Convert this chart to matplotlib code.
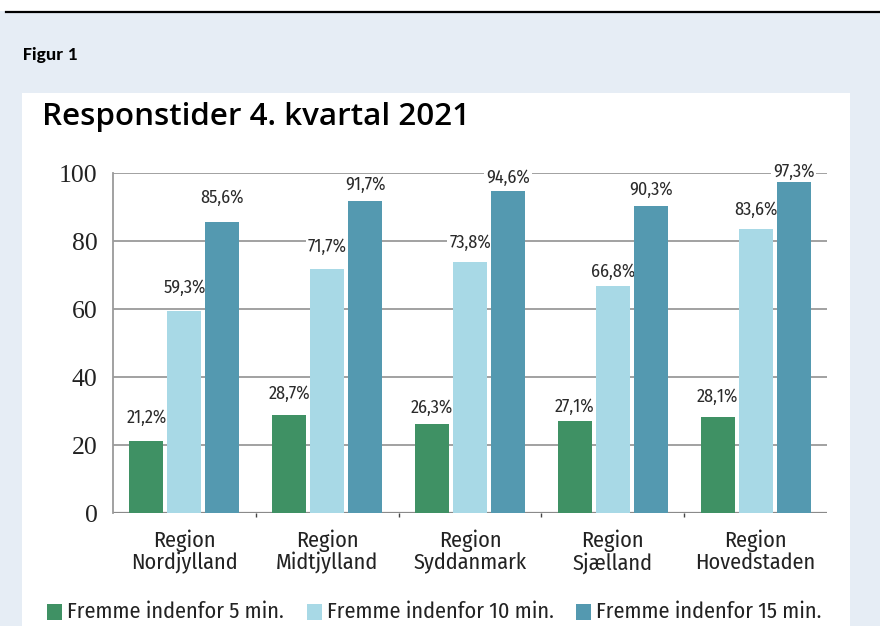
import matplotlib
matplotlib.use("Agg")
import matplotlib.pyplot as plt
from matplotlib import font_manager
from matplotlib.font_manager import FontProperties
from matplotlib.patches import Rectangle
from matplotlib.lines import Line2D
import matplotlib.patheffects as pe
import numpy as np

# ---- data ----
regions = ["Region\nNordjylland", "Region\nMidtjylland", "Region\nSyddanmark",
           "Region\nSjælland", "Region\nHovedstaden"]
series_names = ["Fremme indenfor 5 min.", "Fremme indenfor 10 min.", "Fremme indenfor 15 min."]
within_5 = [21.2, 28.7, 26.3, 27.1, 28.1]
within_10 = [59.3, 71.7, 73.8, 66.8, 83.6]
within_15 = [85.6, 91.7, 94.6, 90.3, 97.3]
yticks = [0, 20, 40, 60, 80, 100]

# label vertical offsets in pixels (layout only)
label_dy = [[23, 22, 16, 14, 21],
            [24, 22, 19, 14, 19],
            [24, 16, 14, 16, 10]]

colors = ["#3f9164", "#a8d9e6", "#5499b0"]

ttf = font_manager.fontManager.ttflist
available = {f.name for f in ttf}
def pick(*names):
    for n in names:
        if n in available:
            return n
    return "DejaVu Sans"

def find_static(names):
    for n in names:
        for f in ttf:
            if (f.name == n and "[" not in f.fname and f.style == "normal"
                    and f.weight in (400, "normal", "regular", "book")):
                return FontProperties(fname=f.fname), False
    for n in names:
        if n in available:
            return FontProperties(family=n), True
    return FontProperties(family="DejaVu Sans"), False

sans_fp, needs_stroke = find_static(["Source Sans Pro", "Source Sans 3", "Fira Sans Condensed", "PT Sans"])
stroke = [pe.withStroke(linewidth=0.7, foreground="#222222")] if needs_stroke else None
serif = pick("Liberation Serif", "DejaVu Serif")
title_font = pick("Open Sans", "Noto Sans", "DejaVu Sans")
calibri = pick("Carlito", "Liberation Sans")

W, H = 880, 626
fig = plt.figure(figsize=(W / 100, H / 100), dpi=100)
fig.patch.set_facecolor("#e6edf5")

def fx(x): return x / W
def fy(y): return 1 - y / H

# top white strip and black line
fig.add_artist(Rectangle((0, fy(11)), 1, 11 / H, transform=fig.transFigure,
                         facecolor="white", edgecolor="none", zorder=0))
fig.add_artist(Line2D([fx(6), 1], [fy(11.5), fy(11.5)], transform=fig.transFigure,
                      color="black", lw=1.6))
# white panel
fig.add_artist(Rectangle((fx(22), 0), fx(850) - fx(22), fy(93), transform=fig.transFigure,
                         facecolor="white", edgecolor="none", zorder=0))

fig.text(fx(23), fy(60), "Figur 1", fontsize=14, fontweight="bold",
         family=calibri, ha="left", va="baseline")
fig.text(fx(42), fy(125), "Responstider 4. kvartal 2021", fontsize=22.6,
         fontweight="semibold", family=title_font, ha="left", va="baseline")

ax = fig.add_axes([fx(113), fy(513), fx(827) - fx(113), fy(173) - fy(513)])
ax.set_facecolor("none")
ax.set_xlim(-0.5, 4.5)
ax.set_ylim(0, 100)

x = np.arange(len(regions))
width = 0.238
step = 0.266
all_series = [within_5, within_10, within_15]
for i, (vals, c) in enumerate(zip(all_series, colors)):
    xs = x + (i - 1) * step
    ax.bar(xs, vals, width=width, color=c, zorder=3, label=series_names[i])
    for j, (xx, v) in enumerate(zip(xs, vals)):
        t = ax.annotate(f"{v:.1f}".replace(".", ",") + "%", (xx, v),
                        xytext=(0, label_dy[i][j]), textcoords="offset pixels",
                        ha="center", va="center", fontproperties=sans_fp, fontsize=13,
                        color="#2a2a2a", zorder=2.5,
                        bbox=dict(boxstyle="square,pad=0.1", fc="white", ec="none"))
        if stroke:
            t.set_path_effects(stroke)

for tv in yticks[1:]:
    ax.axhline(tv, color="#9a9a9a", lw=1.3, zorder=1)
ax.axhline(0, color="#8a8a8a", lw=1.6, zorder=2)

for s in ["top", "right", "bottom"]:
    ax.spines[s].set_visible(False)
ax.spines["left"].set_color("#9a9a9a")
ax.spines["left"].set_linewidth(1.3)

ax.set_yticks(yticks)
ax.set_yticklabels([str(t) for t in yticks], family=serif, fontsize=18.5, color="#222222")
ax.tick_params(axis="y", length=0, pad=11)
ax.set_xticks(x)
xl = ax.set_xticklabels(regions, fontproperties=sans_fp, fontsize=16, color="#222222",
                        linespacing=1.0)
if stroke:
    for t in xl:
        t.set_path_effects(stroke)
ax.tick_params(axis="x", length=0, pad=12)
ax.set_xticks([0.5, 1.5, 2.5, 3.5], minor=True)
ax.tick_params(axis="x", which="minor", length=3, width=1, color="#444444")

# legend
leg_x = [47, 307, 576]
for i, (lx, name) in enumerate(zip(leg_x, series_names)):
    fig.add_artist(Rectangle((fx(lx), fy(620)), 15 / W, 16 / H, transform=fig.transFigure,
                             facecolor=colors[i], edgecolor="none"))
    t = fig.text(fx(lx + 20), fy(612), name, fontproperties=sans_fp, fontsize=16,
                 color="#222222", ha="left", va="center")
    if stroke:
        t.set_path_effects(stroke)

fig.savefig("out.png", dpi=100, facecolor=fig.get_facecolor())
